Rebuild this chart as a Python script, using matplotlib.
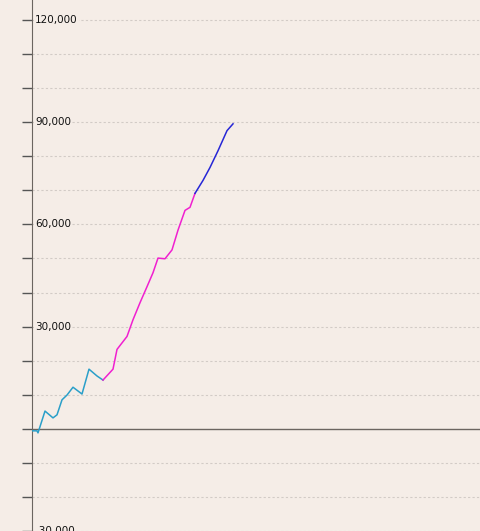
import numpy as np
import matplotlib.pyplot as plt

# trade index (horizontal position) and equity values
x_vals = [0, 5, 6, 13, 21, 25, 30, 35, 41, 50, 57, 65, 71,
          81, 85, 95, 101, 108, 115, 121, 126, 133, 140, 146, 153, 158, 163,
          171, 178, 186, 195, 201]
equity = [-600, -600, -1200, 5200, 3200, 4100, 8500, 9900, 12200, 10200, 17500, 15500, 14300,
          17500, 23300, 27100, 32000, 37000, 41700, 45800, 50100, 49900, 52500, 58300, 64100, 65000, 69100,
          72900, 76700, 81600, 87500, 89500]
# index where each colour segment ends
seg_breaks = [0, 12, 26, 31]
seg_colors = ['#2a9fc9', '#f020d0', '#2626d6']

y_labeled = [-30000, 30000, 60000, 90000, 120000]

bg = '#f5ede7'
fig = plt.figure(figsize=(4.8, 5.31), dpi=100, facecolor=bg)
ax = fig.add_axes([32 / 480, 0, 1 - 32 / 480, 1], facecolor=bg)

for v in range(-30000, 130000, 10000):
    if v == 0:
        ax.axhline(0, color='#6b6560', lw=1, zorder=1)
    else:
        ax.axhline(v, color='#d2cbc6', lw=0.8, ls=(0, (2, 2)), zorder=1)

for i in range(len(seg_breaks) - 1):
    a, b = seg_breaks[i], seg_breaks[i + 1]
    ax.plot(x_vals[a:b + 1], equity[a:b + 1], color=seg_colors[i], lw=1.1, zorder=3)

ax.set_xlim(0, 448)
ax.set_ylim(-29550, 125850)

ax.set_yticks(np.arange(-30000, 130000, 10000))
ax.set_yticklabels([])
ax.tick_params(axis='y', length=7, width=1, color='#555', direction='out')
ax.set_xticks([])
for v in y_labeled:
    ax.text(3, v, f'{v:,}', fontsize=7.5, color='#111', va='center', ha='left',
            bbox=dict(facecolor=bg, edgecolor='none', pad=1), zorder=2)

for s in ['top', 'right', 'bottom']:
    ax.spines[s].set_visible(False)
ax.spines['left'].set_color('#6b6560')

fig.savefig('out.png', dpi=100, facecolor=bg)
